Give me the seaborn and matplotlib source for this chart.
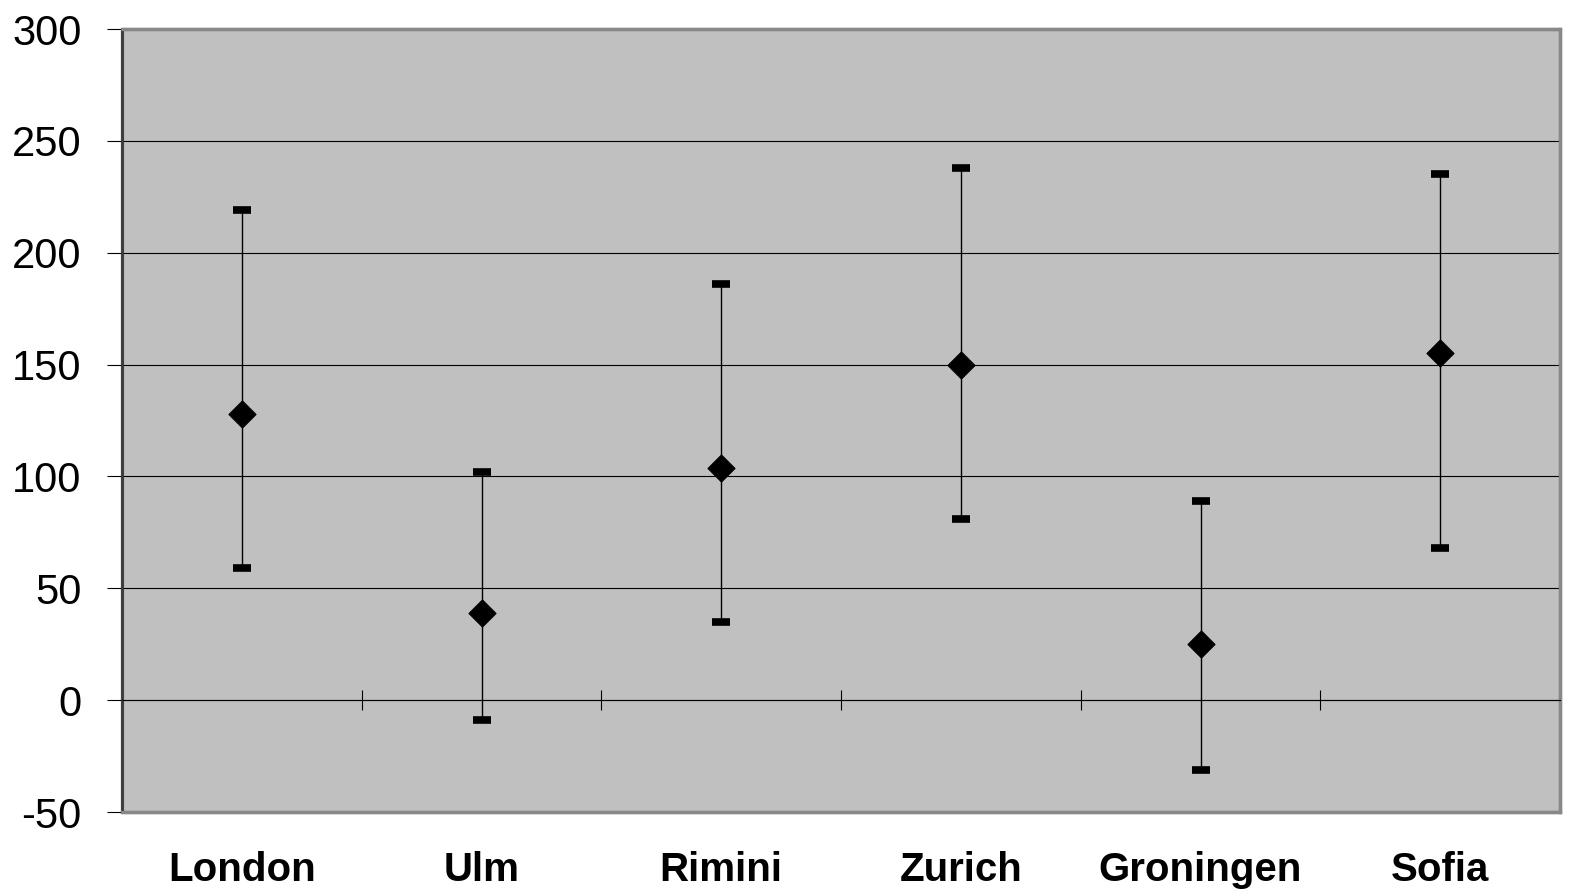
import numpy as np
import pandas as pd
import matplotlib
matplotlib.use("Agg")
import matplotlib.pyplot as plt
import seaborn as sns
from matplotlib.ticker import FixedLocator

# Cities with central estimate and the lower / upper ends of each range
cities = ["London", "Ulm", "Rimini", "Zurich", "Groningen", "Sofia"]
centre = [128, 39, 104, 150, 25, 155]
upper = [219, 102, 186, 238, 89, 235]
lower = [59, -9, 35, 81, -31, 68]
y_ticks = [-50, 0, 50, 100, 150, 200, 250, 300]

sns.set_theme(style="white")
plt.rcParams["font.family"] = ["Liberation Sans", "DejaVu Sans"]
plt.rcParams["axes.unicode_minus"] = False

df = pd.DataFrame({"city": cities, "value": centre, "low": lower, "high": upper})

fig = plt.figure(figsize=(15.72, 8.90), dpi=100)
ax = fig.add_axes([0.0776, 0.0876, 0.9148, 0.8798])
ax.set_facecolor("#c0c0c0")
ax.patch.set_edgecolor("#888888")
ax.patch.set_linewidth(2.4)

# Range whiskers with heavy end caps
pos = np.arange(len(cities))
yerr = [df["value"] - df["low"], df["high"] - df["value"]]
ax.errorbar(pos, df["value"], yerr=yerr, fmt="none", ecolor="black",
            elinewidth=1.0, capsize=6.5, capthick=5.5, zorder=3)

# Central estimates as black diamonds
sns.scatterplot(data=df, x="city", y="value", marker="D", s=190,
                color="black", edgecolor="black", linewidth=0.8,
                zorder=4, ax=ax, legend=False)

ax.set_xlim(-0.5, len(cities) - 0.5)
ax.set_ylim(y_ticks[0], y_ticks[-1])
ax.set_xlabel("")
ax.set_ylabel("")

ax.yaxis.set_major_locator(FixedLocator(y_ticks))
ax.grid(axis="y", color="black", linewidth=0.8)
ax.set_axisbelow(True)

# Zero line carries the separators between categories
ax.spines["top"].set_position(("data", 0))
ax.spines["top"].set_color("black")
ax.spines["top"].set_linewidth(0.8)
ax.xaxis.set_minor_locator(FixedLocator(pos[:-1] + 0.5))
ax.tick_params(axis="x", which="minor", bottom=False, top=True,
               direction="inout", length=14, width=0.8, color="black")
ax.tick_params(axis="x", which="major", bottom=True, top=False, length=0,
               pad=28, labelcolor="black")
ax.tick_params(axis="y", left=True, direction="out", length=11, width=0.8,
               color="black", labelsize=30, pad=18, labelcolor="black")
ax.set_xticks(pos, cities, fontweight="bold", fontsize=29)

# Outer frame: dark left edge, grey elsewhere
ax.axhline(y_ticks[-1], color="#888888", linewidth=2.4, zorder=5, clip_on=False)
ax.spines["left"].set_color("#3a3a3a")
ax.spines["left"].set_linewidth(2.0)
for side in ("bottom", "right"):
    ax.spines[side].set_color("#888888")
    ax.spines[side].set_linewidth(2.4)

fig.savefig("out.png", dpi=100, facecolor="white")
